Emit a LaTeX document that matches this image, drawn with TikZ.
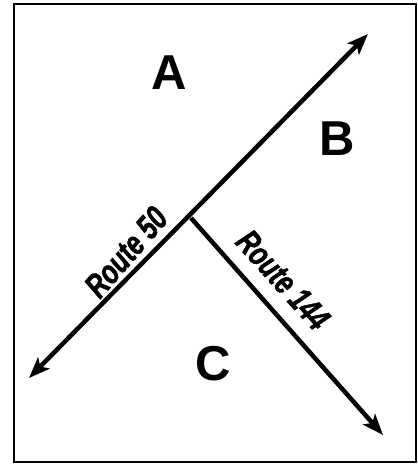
\documentclass[tikz,border=0pt]{standalone}
\usepackage{fontspec}
\setmainfont{Liberation Sans}
\newfontfamily\routefont{Liberation Sans}[BoldItalicFeatures={FakeBold=1.5}]
\usetikzlibrary{arrows.meta}
\tikzset{
  road/.style={line width=4.5pt, line cap=butt},
  tip/.style={-{Stealth[length=21pt,width=16pt,inset=5pt]}},
  region/.style={font=\bfseries\fontsize{49}{49}\selectfont, inner sep=0pt},
  roadlabel/.style={font=\routefont\bfseries\itshape\fontsize{34}{34}\selectfont, inner sep=0pt},
}
\begin{document}
\begin{tikzpicture}[x=1pt,y=-1pt]
\useasboundingbox (0,0) rectangle (418,464);
\node[draw, line width=1.5pt, minimum width=402pt, minimum height=458pt, inner sep=0pt] (frame) at (215,233) {};
\coordinate (L) at (29,378);
\coordinate (U) at (368,34);
\coordinate (J) at (191,218);
\coordinate (E) at (383,435);
\draw[road, {Stealth[length=21pt,width=16pt,inset=5pt]}-{Stealth[length=21pt,width=16pt,inset=5pt]}] (L) -- (U);
\draw[road, tip] (J) -- (E);
\node[region] (A) at (169,73) {A};
\node[region] (B) at (337,139) {B};
\node[region] (C) at (213,364) {C};
\node[roadlabel, rotate=49] (r50) at (126,252) {\scalebox{0.74}[1]{Route 50}};
\node[roadlabel, rotate=-48] (r144) at (283,280) {\scalebox{0.74}[1]{Route 144}};
\end{tikzpicture}
\end{document}
